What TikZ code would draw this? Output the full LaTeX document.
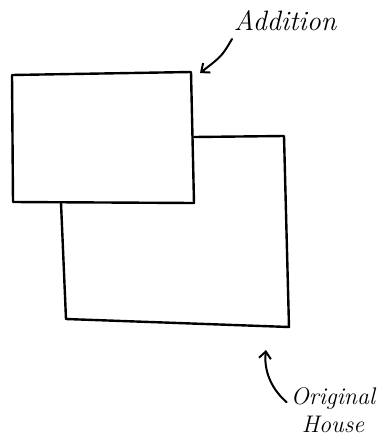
\documentclass[tikz,border=0pt]{standalone}
\usepackage{tikz}
\usetikzlibrary{
    calc,
    arrows.meta
}
\tikzset{
  wall/.style={line width=2.4pt, line join=round, line cap=round},
  handarrow/.style={line width=2pt, line cap=round,
    -{Straight Barb[length=7pt,width=12pt,line width=2pt]}},
  handtext/.style={font=\fontsize{28}{30}\selectfont\itshape, align=center, inner sep=1pt}
}

\begin{document}
\begin{tikzpicture}[x=1pt,y=-1pt]
\useasboundingbox (0,0) rectangle (381,445);

\coordinate (Atl) at (12,75);
\coordinate (Atr) at (191,72);
\coordinate (Abr) at (194,203);
\coordinate (Abl) at (13,202);

\coordinate (Hj) at (194,137);
\coordinate (Htr) at (284,136);
\coordinate (Hbr) at (289,327);
\coordinate (Hbl) at (66,319);
\coordinate (Hj2) at (61,203);

\draw[wall] (Atl) -- (Atr) -- (Abr) -- (Abl) -- cycle;
\draw[wall] (Hj) -- (Htr) -- (Hbr) -- (Hbl) -- (Hj2);

\node[handtext] (addlabel) at (285,21) {Addition};
\node[handtext, font=\fontsize{24}{28}\selectfont\itshape] (houselabel) at (333,410) {Original\\House};

\coordinate (addtip) at (200,73);
\coordinate (housetip) at (266,350);

\draw[handarrow] (232,39) .. controls (222,56) .. (addtip);
\draw[handarrow] ([xshift=-3pt,yshift=-16pt]houselabel.north west) .. controls (268,386) and (264,366) .. (housetip);
\end{tikzpicture}
\end{document}
